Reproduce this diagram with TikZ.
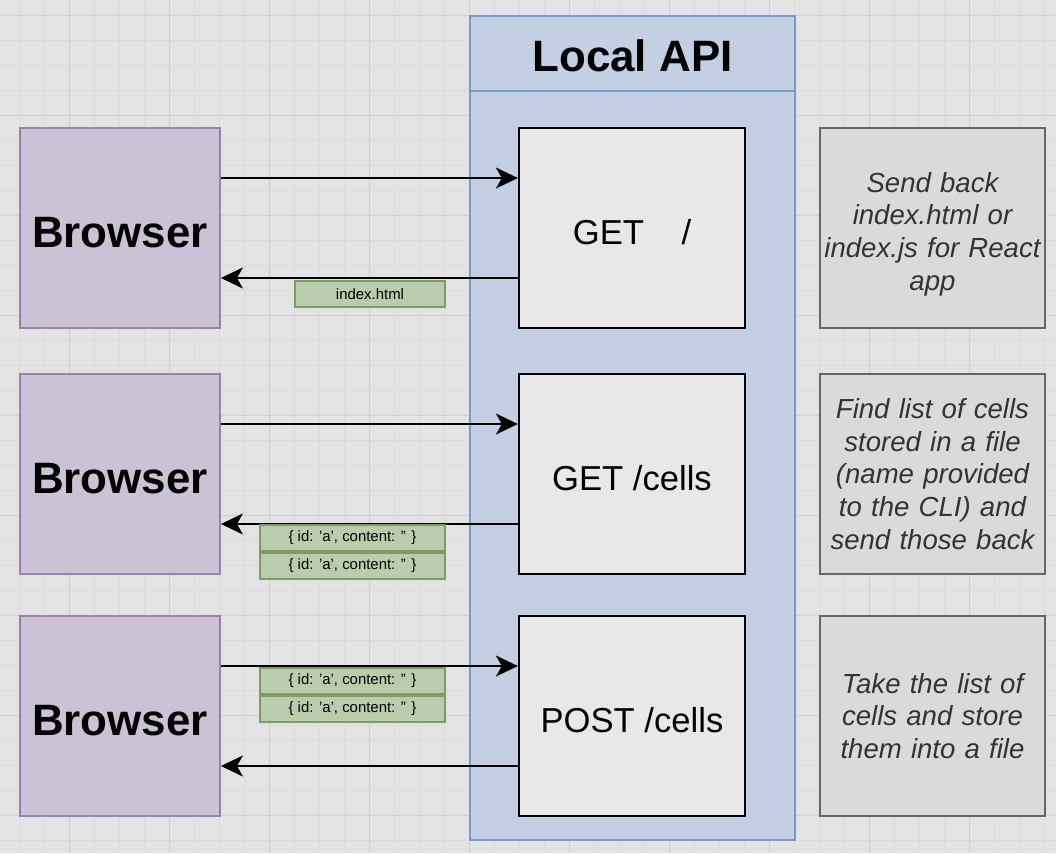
\documentclass[tikz,border=0pt]{standalone}
\usepackage{fontspec}
\setmainfont{Liberation Sans}
\usetikzlibrary{arrows.meta}

\definecolor{paper}{HTML}{E3E3E3}
\definecolor{gridminor}{HTML}{DBDBDB}
\definecolor{gridmajor}{HTML}{CFCFCF}
\definecolor{apifill}{HTML}{C3D0E3}
\definecolor{apiline}{HTML}{7B98C6}
\definecolor{browfill}{HTML}{CCC2D6}
\definecolor{browline}{HTML}{9A82AC}
\definecolor{endfill}{HTML}{E8E8E8}
\definecolor{notefill}{HTML}{DADADA}
\definecolor{noteline}{HTML}{666666}
\definecolor{notetext}{HTML}{333333}
\definecolor{datafill}{HTML}{B9CCAB}
\definecolor{dataline}{HTML}{7D9C62}

\begin{document}
\begin{tikzpicture}[x=0.02cm, y=-0.02cm,
  browser/.style={draw=browline, fill=browfill, line width=1.1pt,
    minimum width=4cm, minimum height=4cm, inner sep=0pt,
    text height=0.77cm, text depth=0pt,
    font=\fontsize{25}{30}\selectfont\bfseries},
  endpt/.style={draw=black, fill=endfill, line width=1.3pt,
    minimum width=4.52cm, minimum height=4cm, inner sep=0pt,
    text height=0.66cm, text depth=0pt,
    font=\fontsize{19.7}{24}\selectfont},
  note/.style={draw=noteline, fill=notefill, line width=1.1pt,
    minimum width=4.5cm, minimum height=4cm, inner sep=0pt,
    text width=4.4cm, align=center, text=notetext,
    font=\fontsize{15.7}{18.6}\selectfont\itshape},
  data/.style={draw=dataline, fill=datafill, line width=1pt,
    minimum height=0.52cm, inner sep=0pt, anchor=north,
    font=\fontsize{8.5}{10}\selectfont},
  call/.style={line width=1.1pt,
    -{Stealth[length=0.44cm, width=0.42cm, inset=0.12cm]}}]

  % canvas with grid
  \useasboundingbox (0,0) rectangle (1056,853);
  \fill[paper] (0,0) rectangle (1056,853);
  \foreach \gx in {19.3,44.3,...,1056}
    \draw[gridminor, line width=0.35pt] (\gx,0) -- (\gx,853);
  \foreach \gy in {15.5,40.5,...,853}
    \draw[gridminor, line width=0.35pt] (0,\gy) -- (1056,\gy);
  \foreach \gx in {69.3,169.3,...,1056}
    \draw[gridmajor, line width=0.45pt] (\gx,0) -- (\gx,853);
  \foreach \gy in {15.5,115.5,...,853}
    \draw[gridmajor, line width=0.45pt] (0,\gy) -- (1056,\gy);

  % local api container
  \node[draw=apiline, fill=apifill, line width=1.1pt, minimum width=6.5cm,
    minimum height=16.48cm, inner sep=0pt] (api) at (632.5,428) {};
  \node[draw=apiline, fill=apifill, line width=1.1pt, minimum width=6.5cm,
    minimum height=1.5cm, inner sep=0pt, text height=0.7cm, text depth=0pt,
    font=\fontsize{25}{30}\selectfont\bfseries]
    (apihead) at (632.5,53.5) {Local API};

  % row 1
  \node[browser] (b1) at (120,228) {Browser};
  \node[endpt] (g1) at (632,228) {GET\hspace{0.75cm}/};
  \node[note] (n1) at (932.5,228) {\rule{0pt}{0.64cm}Send back\\ index.html or\\ index.js for React\\ app};

  % row 2
  \node[browser] (b2) at (120,474) {Browser};
  \node[endpt] (g2) at (632,474) {GET /cells};
  \node[note] (n2) at (932.5,474) {Find list of cells\\ stored in a file\\ (name provided\\ to the CLI) and\\ send those back};

  % row 3
  \node[browser] (b3) at (120,716) {Browser};
  \node[endpt] (g3) at (632,716) {POST /cells};
  \node[note] (n3) at (932.5,716) {Take the list of\\ cells and store\\ them into a file};

  % requests and responses
  \draw[call] ([yshift=1cm]b1.east) -- ([yshift=1cm]g1.west);
  \draw[call] ([yshift=-1cm]g1.west) -- ([yshift=-1cm]b1.east);
  \draw[call] ([yshift=1cm]b2.east) -- ([yshift=1cm]g2.west);
  \draw[call] ([yshift=-1cm]g2.west) -- ([yshift=-1cm]b2.east);
  \draw[call] ([yshift=1cm]b3.east) -- ([yshift=1cm]g3.west);
  \draw[call] ([yshift=-1cm]g3.west) -- ([yshift=-1cm]b3.east);

  % payloads
  \node[data, minimum width=3cm] (d1) at (370,280) {index.html};
  \node[data, minimum width=3.7cm] (d2a) at (352.5,524) {\{ id: 'a', content: '' \}};
  \node[data, minimum width=3.7cm] (d2b) at (d2a.south) {\{ id: 'a', content: '' \}};
  \node[data, minimum width=3.7cm] (d3a) at (352.5,667) {\{ id: 'a', content: '' \}};
  \node[data, minimum width=3.7cm] (d3b) at (d3a.south) {\{ id: 'a', content: '' \}};
\end{tikzpicture}
\end{document}
